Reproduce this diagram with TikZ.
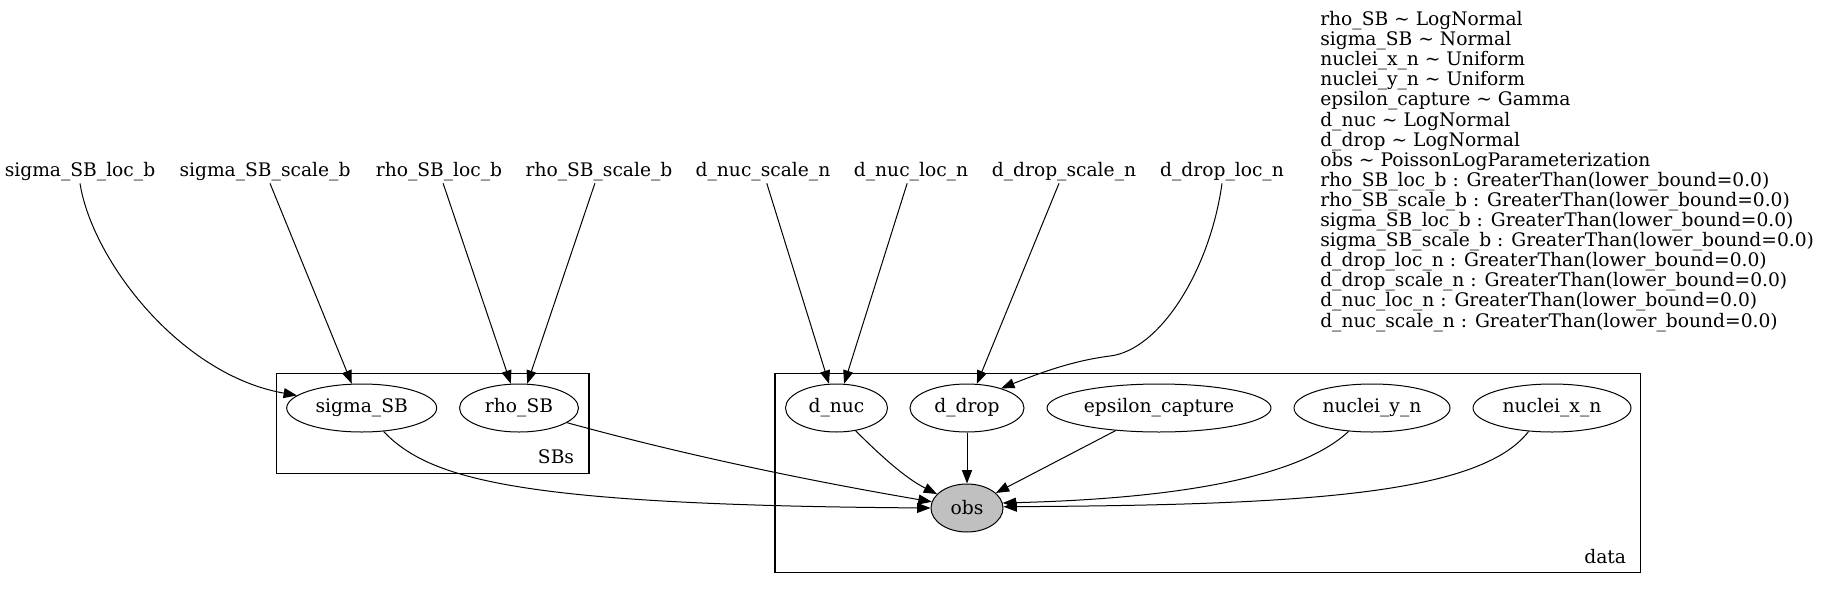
\documentclass[tikz,border=0pt]{standalone}
\usepackage{fontspec}
\setmainfont{DejaVu Serif}
\usetikzlibrary{arrows.meta,shapes.geometric}
\definecolor{obsgray}{RGB}{192,192,192}

\begin{document}
\begin{tikzpicture}[x=0.75pt,y=-0.75pt,
    hyper/.style={inner sep=2pt, font=\fontsize{14}{16}\selectfont},
    rv/.style={draw, ellipse, line width=0.75pt, inner sep=0pt, minimum height=36pt, font=\fontsize{14}{16}\selectfont},
    dep/.style={line width=0.75pt, -{Triangle[length=10pt,width=7.5pt]}},
    plate/.style={draw, line width=1pt}]
    \useasboundingbox (0,0) rectangle (1827,589);

    % Plates
    \draw[plate] (276.7,373.3) rectangle (589,473.3);
    \node[hyper, anchor=base east] (sbs) at (577,463) {SBs};
    \draw[plate] (775,373.3) rectangle (1640.7,572.7);
    \node[hyper, anchor=base east] (data) at (1629,563) {data};

    % Hyperparameters
    \node[hyper, anchor=base] (sigmaSBlocb) at (80,176) {sigma\_SB\_loc\_b};
    \node[hyper, anchor=base] (sigmaSBscaleb) at (265,176) {sigma\_SB\_scale\_b};
    \node[hyper, anchor=base] (rhoSBlocb) at (439,176) {rho\_SB\_loc\_b};
    \node[hyper, anchor=base] (rhoSBscaleb) at (599,176) {rho\_SB\_scale\_b};
    \node[hyper, anchor=base] (dNucScaleN) at (763,176) {d\_nuc\_scale\_n};
    \node[hyper, anchor=base] (dNucLocN) at (911,176) {d\_nuc\_loc\_n};
    \node[hyper, anchor=base] (dDropScaleN) at (1064,176) {d\_drop\_scale\_n};
    \node[hyper, anchor=base] (dDropLocN) at (1222,176) {d\_drop\_loc\_n};

    % Random variables
    \node[rv, minimum width=112.5pt] (sigmaSB) at (361.7,408) {sigma\_SB};
    \node[rv, minimum width=89.25pt] (rhoSB) at (519,408) {rho\_SB};
    \node[rv, minimum width=76.5pt] (dNuc) at (836.5,408) {d\_nuc};
    \node[rv, minimum width=85.5pt] (dDrop) at (967,408) {d\_drop};
    \node[rv, minimum width=168pt] (eps) at (1159,408) {epsilon\_capture};
    \node[rv, minimum width=117pt] (nucY) at (1372,408) {nuclei\_y\_n};
    \node[rv, minimum width=118.5pt] (nucX) at (1552,408) {nuclei\_x\_n};
    \node[rv, minimum width=54pt, fill=obsgray] (obs) at (967,508) {obs};

    % Distributions and constraints
    \foreach \txt [count=\i] in {rho\_SB \textasciitilde{} LogNormal, sigma\_SB \textasciitilde{} Normal,
        nuclei\_x\_n \textasciitilde{} Uniform, nuclei\_y\_n \textasciitilde{} Uniform,
        epsilon\_capture \textasciitilde{} Gamma, d\_nuc \textasciitilde{} LogNormal,
        d\_drop \textasciitilde{} LogNormal, obs \textasciitilde{} PoissonLogParameterization,
        rho\_SB\_loc\_b : GreaterThan(lower\_bound=0.0), rho\_SB\_scale\_b : GreaterThan(lower\_bound=0.0),
        sigma\_SB\_loc\_b : GreaterThan(lower\_bound=0.0), sigma\_SB\_scale\_b : GreaterThan(lower\_bound=0.0),
        d\_drop\_loc\_n : GreaterThan(lower\_bound=0.0), d\_drop\_scale\_n : GreaterThan(lower\_bound=0.0),
        d\_nuc\_loc\_n : GreaterThan(lower\_bound=0.0), d\_nuc\_scale\_n : GreaterThan(lower\_bound=0.0)}
        \node[hyper, inner sep=0pt, anchor=base west] (dist\i) at (1320,25.5+20.1*\i-20.1) {\txt};

    % Edges into the plates
    \draw[dep] (sigmaSBlocb.south) .. controls (92,260) and (180,375) .. (sigmaSB.169);
    \draw[dep] (sigmaSBscaleb) -- (sigmaSB);
    \draw[dep] (rhoSBlocb) -- (rhoSB);
    \draw[dep] (rhoSBscaleb) -- (rhoSB);
    \draw[dep] (dNucScaleN) -- (dNuc);
    \draw[dep] (dNucLocN) -- (dNuc);
    \draw[dep] (dDropScaleN) -- (dDrop);
    \draw[dep] (dDropLocN.south) .. controls (1210,270) and (1160,350) .. (1110,356)
        .. controls (1070,361) and (1035,375) .. (dDrop.30);

    % Edges into obs
    \draw[dep] (sigmaSB.-47) .. controls (430,480) and (520,505) .. (obs.west);
    \draw[dep] (rhoSB.-17) .. controls (686.7,455.6) and (811.7,481.3) .. (obs.170);
    \draw[dep] (dNuc.-50) .. controls (880,455) and (905,478) .. (obs.155);
    \draw[dep] (dDrop) -- (obs);
    \draw[dep] (eps) -- (obs);
    \draw[dep] (nucY.-135) .. controls (1305,472) and (1200,498) .. (obs.8);
    \draw[dep] (nucX.-135) .. controls (1480,495) and (1300,505) .. (obs.2);
\end{tikzpicture}
\end{document}
